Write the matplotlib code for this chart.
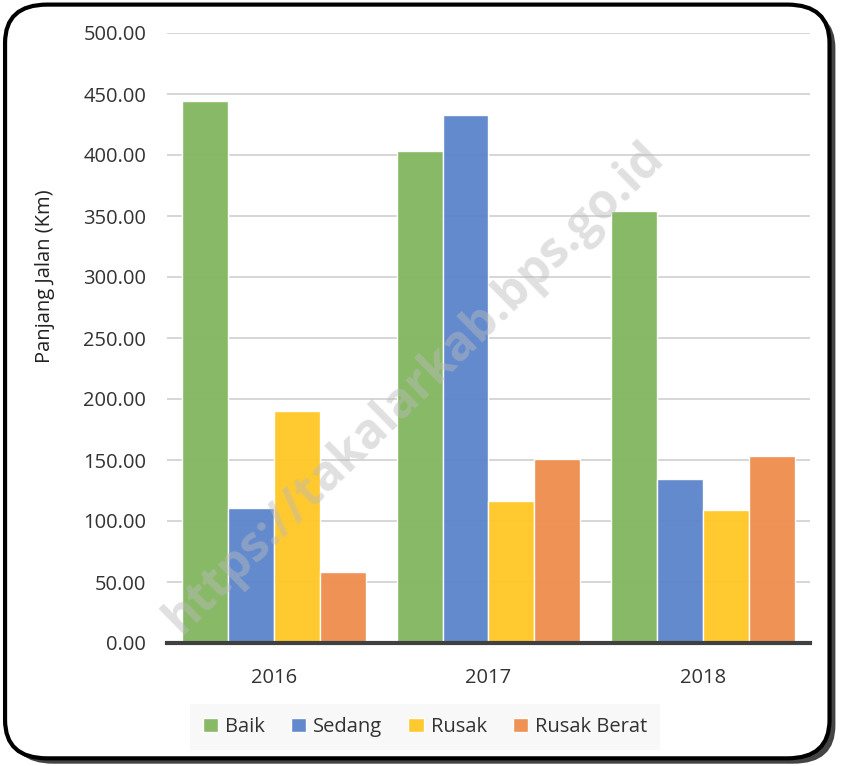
import matplotlib
matplotlib.use("Agg")
import matplotlib.pyplot as plt
from matplotlib.patches import FancyBboxPatch
import numpy as np

years = ["2016", "2017", "2018"]
series = ["Baik", "Sedang", "Rusak", "Rusak Berat"]
baik = [444.0, 403.0, 354.5]
sedang = [110.5, 432.5, 134.5]
rusak = [190.5, 116.5, 109.0]
rusak_berat = [58.5, 151.0, 153.0]
colors = ["#84B762", "#5E86CC", "#FFC828", "#EE8F50"]
yticks = [0, 50, 100, 150, 200, 250, 300, 350, 400, 450, 500]

plt.rcParams['font.family'] = ['Open Sans', 'DejaVu Sans']
FS = 14.5

fig = plt.figure(figsize=(8.43, 7.66), dpi=100)
shadow = FancyBboxPatch((0.013, 0.003), 0.978, 0.984, boxstyle="round,pad=0,rounding_size=0.05",
                        transform=fig.transFigure, facecolor="#444444", edgecolor="none", zorder=0)
fig.patches.append(shadow)
frame = FancyBboxPatch((0.006, 0.01), 0.978, 0.984, boxstyle="round,pad=0,rounding_size=0.05",
                       transform=fig.transFigure, facecolor="white", edgecolor="black", linewidth=3, zorder=1)
fig.patches.append(frame)

ax = fig.add_axes([167/843, 1-643/766, (810-167)/843, (643-33)/766])
ax.set_zorder(2)
ax.patch.set_alpha(0)

x = np.arange(len(years))
data = [baik, sedang, rusak, rusak_berat]
w = 0.214
for i, (vals, c, name) in enumerate(zip(data, colors, series)):
    ax.bar(x + (i - 1.5) * w, vals, width=w, color=c, edgecolor="#FFFFFF", linewidth=1.0,
           label=name, zorder=3, alpha=0.97)

ax.set_xlim(-0.5, 2.5)
ax.set_ylim(0, 500)
ax.set_yticks(yticks)
ax.set_yticklabels([f"{v:.2f}" for v in yticks], fontsize=FS, color="#333333")
ax.set_xticks(x)
ax.set_xticklabels(years, fontsize=FS, color="#333333")
ax.tick_params(axis='y', length=0, pad=15)
ax.tick_params(axis='x', length=0, pad=18)
ax.grid(axis='y', color="#D0D0D0", linewidth=1.2, zorder=0)
for s in ["top", "right", "left"]:
    ax.spines[s].set_visible(False)
ax.spines["bottom"].set_color("#404040")
ax.spines["bottom"].set_linewidth(3)
ax.spines["bottom"].set_zorder(5)
ax.set_ylabel("Panjang Jalan (Km)", fontsize=FS, color="#222222")
ax.yaxis.set_label_coords(-(167 - 55) / 643, (643 - 276) / 610)

leg = fig.legend(loc="center", bbox_to_anchor=(425/843, 1-727/766), ncol=4, frameon=True,
                 fontsize=FS, handlelength=0.75, handleheight=0.75, handletextpad=0.35,
                 columnspacing=1.3, borderpad=0.65, labelcolor="#333333")
leg.get_frame().set_facecolor("#F7F7F7")
leg.get_frame().set_edgecolor("none")
leg.get_frame().set_boxstyle("square,pad=0")
leg.set_zorder(3)

fig.text(414/843, 1-388/766, "https://takalarkab.bps.go.id", rotation=44.5, fontsize=35,
         fontweight="bold", color="#BBBBBB", alpha=0.45, ha="center", va="center", zorder=10,
         family=["Open Sans", "DejaVu Sans"])

fig.savefig("out.png", dpi=100)
